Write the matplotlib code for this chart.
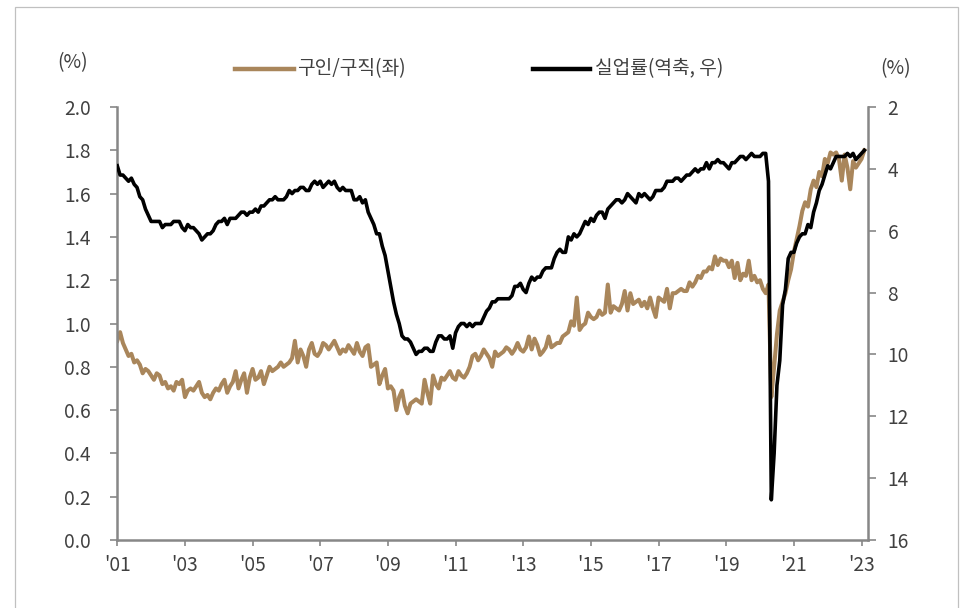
import matplotlib
matplotlib.use("Agg")
import matplotlib.pyplot as plt
from matplotlib.lines import Line2D
from matplotlib.patches import Rectangle
from matplotlib.ticker import FormatStrFormatter
import numpy as np

plt.rcParams['font.family'] = ['Noto Sans CJK KR', 'DejaVu Sans']
plt.rcParams['font.weight'] = 'light'

# Monthly series, Dec 2000 through Jan 2023
openings_ratio = [
    0.92,
    0.96, 0.91, 0.88, 0.85, 0.86, 0.82, 0.83, 0.81, 0.77, 0.79, 0.78, 0.76,
    0.74, 0.77, 0.76, 0.72, 0.73, 0.70, 0.71, 0.69, 0.73, 0.72, 0.74, 0.66,
    0.69, 0.70, 0.69, 0.71, 0.73, 0.68, 0.66, 0.67, 0.65, 0.68, 0.70, 0.69,
    0.72, 0.74, 0.68, 0.71, 0.73, 0.78, 0.70, 0.74, 0.77, 0.68, 0.75, 0.79,
    0.74, 0.75, 0.78, 0.72, 0.76, 0.80, 0.78, 0.79, 0.80, 0.82, 0.80, 0.81,
    0.82, 0.84, 0.92, 0.82, 0.88, 0.85, 0.80, 0.88, 0.91, 0.86, 0.85, 0.87,
    0.91, 0.90, 0.88, 0.90, 0.92, 0.89, 0.86, 0.88, 0.87, 0.90, 0.88, 0.86,
    0.91, 0.87, 0.85, 0.89, 0.90, 0.80, 0.81, 0.82, 0.72, 0.76, 0.79, 0.70,
    0.71, 0.69, 0.60, 0.66, 0.69, 0.62, 0.585, 0.63, 0.64, 0.65, 0.64, 0.63,
    0.74, 0.68, 0.63, 0.76, 0.72, 0.70, 0.75, 0.74, 0.76, 0.78, 0.75, 0.74,
    0.78, 0.76, 0.75, 0.77, 0.80, 0.85, 0.86, 0.83, 0.85, 0.88, 0.86, 0.84,
    0.80, 0.87, 0.85, 0.86, 0.87, 0.89, 0.88, 0.86, 0.88, 0.91, 0.88, 0.87,
    0.89, 0.94, 0.88, 0.93, 0.90, 0.855, 0.87, 0.89, 0.94, 0.89, 0.90, 0.91,
    0.91, 0.94, 0.95, 0.96, 1.01, 0.99, 1.12, 0.97, 0.99, 1.00, 1.05, 1.03,
    1.02, 1.03, 1.06, 1.04, 1.05, 1.18, 1.05, 1.08, 1.07, 1.06, 1.09, 1.15,
    1.06, 1.14, 1.09, 1.10, 1.11, 1.08, 1.10, 1.07, 1.12, 1.07, 1.03, 1.12,
    1.11, 1.10, 1.16, 1.07, 1.14, 1.14, 1.15, 1.16, 1.15, 1.15, 1.19, 1.17,
    1.19, 1.22, 1.21, 1.24, 1.24, 1.26, 1.25, 1.31, 1.27, 1.30, 1.29, 1.29,
    1.26, 1.29, 1.21, 1.28, 1.20, 1.23, 1.22, 1.29, 1.20, 1.22, 1.19, 1.20,
    1.16, 1.14, 1.18, 0.66, 0.80, 0.95, 1.06, 1.10, 1.14, 1.20, 1.25, 1.33,
    1.39, 1.45, 1.52, 1.56, 1.54, 1.62, 1.66, 1.63, 1.70, 1.68, 1.76, 1.74,
    1.79, 1.78, 1.79, 1.76, 1.66, 1.78, 1.72, 1.62, 1.75, 1.72, 1.74, 1.76,
    1.80,
]

unemployment_rate = [
    3.9,
    4.2, 4.2, 4.3, 4.4, 4.3, 4.5, 4.6, 4.9, 5.0, 5.3, 5.5, 5.7,
    5.7, 5.7, 5.7, 5.9, 5.8, 5.8, 5.8, 5.7, 5.7, 5.7, 5.9, 6.0,
    5.8, 5.9, 5.9, 6.0, 6.1, 6.3, 6.2, 6.1, 6.1, 6.0, 5.8, 5.7,
    5.7, 5.6, 5.8, 5.6, 5.6, 5.6, 5.5, 5.4, 5.4, 5.5, 5.4, 5.4,
    5.3, 5.4, 5.2, 5.2, 5.1, 5.0, 5.0, 4.9, 5.0, 5.0, 5.0, 4.9,
    4.7, 4.8, 4.7, 4.7, 4.6, 4.6, 4.7, 4.7, 4.5, 4.4, 4.5, 4.4,
    4.6, 4.5, 4.4, 4.5, 4.4, 4.6, 4.7, 4.6, 4.7, 4.7, 4.7, 5.0,
    5.0, 4.9, 5.1, 5.0, 5.4, 5.6, 5.8, 6.1, 6.1, 6.5, 6.8, 7.3,
    7.8, 8.3, 8.7, 9.0, 9.4, 9.5, 9.5, 9.6, 9.8, 10.0, 9.9, 9.9,
    9.8, 9.8, 9.9, 9.9, 9.6, 9.4, 9.4, 9.5, 9.5, 9.4, 9.8, 9.3,
    9.1, 9.0, 9.0, 9.1, 9.0, 9.1, 9.0, 9.0, 9.0, 8.8, 8.6, 8.5,
    8.3, 8.3, 8.2, 8.2, 8.2, 8.2, 8.2, 8.1, 7.8, 7.8, 7.7, 7.9,
    8.0, 7.7, 7.5, 7.6, 7.5, 7.5, 7.3, 7.2, 7.2, 7.2, 6.9, 6.7,
    6.6, 6.7, 6.7, 6.2, 6.3, 6.1, 6.2, 6.1, 5.9, 5.7, 5.8, 5.6,
    5.7, 5.5, 5.4, 5.4, 5.6, 5.3, 5.2, 5.1, 5.0, 5.0, 5.1, 5.0,
    4.8, 4.9, 5.0, 5.1, 4.8, 4.9, 4.8, 4.9, 5.0, 4.9, 4.7, 4.7,
    4.7, 4.6, 4.4, 4.4, 4.4, 4.3, 4.3, 4.4, 4.3, 4.2, 4.2, 4.1,
    4.0, 4.1, 4.0, 4.0, 3.8, 4.0, 3.8, 3.8, 3.7, 3.8, 3.8, 3.9,
    4.0, 3.8, 3.8, 3.7, 3.6, 3.6, 3.7, 3.6, 3.5, 3.6, 3.6, 3.6,
    3.5, 3.5, 4.4, 14.7, 13.2, 11.0, 10.2, 8.4, 7.9, 6.9, 6.7, 6.7,
    6.4, 6.2, 6.1, 6.1, 5.8, 5.9, 5.4, 5.1, 4.7, 4.5, 4.2, 3.9,
    4.0, 3.8, 3.6, 3.6, 3.6, 3.6, 3.5, 3.6, 3.5, 3.7, 3.6, 3.5,
    3.4,
]

year_labels = ["'01", "'03", "'05", "'07", "'09", "'11",
               "'13", "'15", "'17", "'19", "'21", "'23"]
left_ticks = [0.0, 0.2, 0.4, 0.6, 0.8, 1.0, 1.2, 1.4, 1.6, 1.8, 2.0]
right_ticks = [2, 4, 6, 8, 10, 12, 14, 16]
series_names = ['구인/구직(좌)', '실업률(역축, 우)']

BROWN = '#A9865B'
BLACK = '#000000'
SPINE = '#878787'
TEXT = '#404040'
FS = 13.8

W, H = 964, 608
fig = plt.figure(figsize=(W / 100, H / 100), dpi=100)
fig.patch.set_facecolor('white')

x0, x1, y0, y1 = 117, 868, 107, 540
ax = fig.add_axes([x0 / W, 1 - y1 / H, (x1 - x0) / W, (y1 - y0) / H])
ax2 = ax.twinx()

x = np.arange(len(openings_ratio))
ax.plot(x, openings_ratio, color=BROWN, lw=2.9, solid_joinstyle='round')
ax2.plot(np.arange(len(unemployment_rate)), unemployment_rate, color=BLACK,
         lw=2.6, solid_joinstyle='round')

ax.set_xlim(-0.1, 266.3)
ax.set_ylim(0, 2.0)
ax2.set_ylim(16, 2)

ax.set_xticks(np.arange(0, 24 * len(year_labels), 24))
ax.set_xticklabels(year_labels)
ax.set_yticks(left_ticks)
ax.yaxis.set_major_formatter(FormatStrFormatter('%.1f'))
ax2.set_yticks(right_ticks)

for a in (ax, ax2):
    a.spines['top'].set_visible(False)
ax.spines['right'].set_visible(False)
ax2.spines['left'].set_visible(False)
ax2.spines['bottom'].set_visible(False)
for s in ('left', 'bottom'):
    ax.spines[s].set_color(SPINE)
    ax.spines[s].set_linewidth(1.8)
ax2.spines['right'].set_color(SPINE)
ax2.spines['right'].set_linewidth(1.8)

ax.tick_params(axis='y', direction='out', length=5, width=1.2, color=SPINE,
               pad=14, labelsize=FS, labelcolor=TEXT)
ax.tick_params(axis='x', direction='out', length=4, width=1.2, color=SPINE,
               pad=7, labelsize=FS, labelcolor=TEXT)
ax2.tick_params(axis='y', direction='out', length=6, width=1.2, color=SPINE,
                pad=8, labelsize=FS, labelcolor=TEXT)

# unit labels
fig.text(73 / W, 1 - 63 / H, '(%)', ha='center', va='center', fontsize=FS, color=TEXT)
fig.text(896 / W, 1 - 69 / H, '(%)', ha='center', va='center', fontsize=FS, color=TEXT)

# legend row
ly = 1 - 69 / H
fig.add_artist(Line2D([235 / W, 294 / W], [ly, ly], color=BROWN, lw=3.2,
                      transform=fig.transFigure))
fig.text(297 / W, ly, series_names[0], ha='left', va='center', fontsize=FS, color=TEXT)
fig.add_artist(Line2D([533 / W, 590 / W], [ly, ly], color=BLACK, lw=3.2,
                      transform=fig.transFigure))
fig.text(595 / W, ly, series_names[1], ha='left', va='center', fontsize=FS, color=TEXT)

# light outer frame
fig.add_artist(Rectangle((15 / W, -0.05), (958 - 15) / W, 1 - 7 / H + 0.05,
                         transform=fig.transFigure, fill=False,
                         edgecolor='#C0C0C0', lw=0.9))

fig.savefig('out.png', dpi=100)
